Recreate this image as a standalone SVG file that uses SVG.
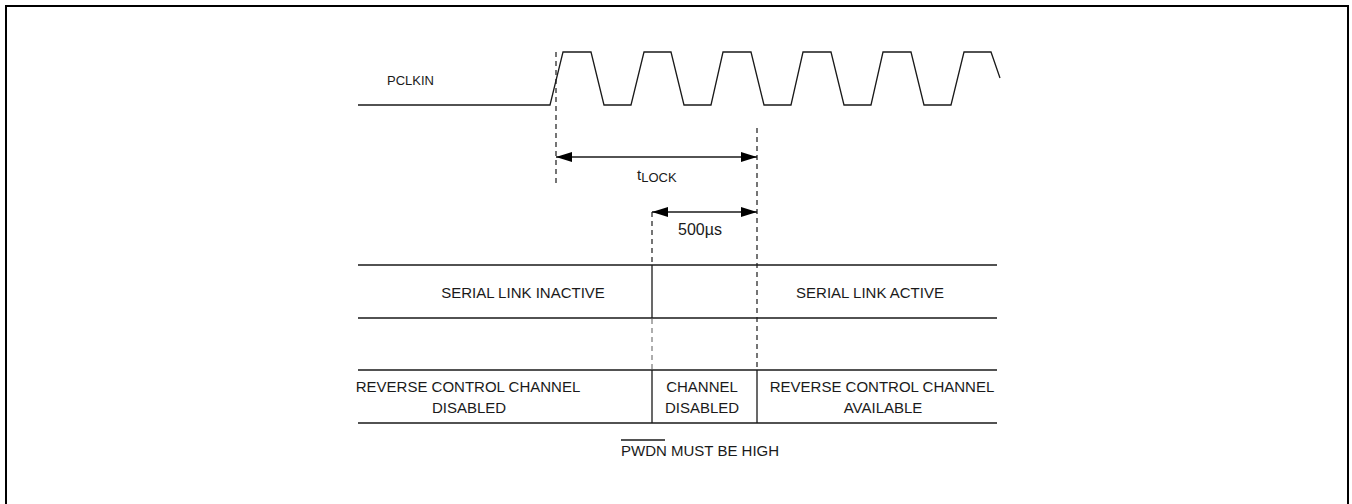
<svg xmlns="http://www.w3.org/2000/svg" width="1352" height="504" viewBox="0 0 1352 504">
<style>
.t{font-family:"Liberation Sans",Arial,sans-serif;fill:#1a1a1a;}
.l{stroke:#1a1a1a;stroke-width:1.3;fill:none;}
.d{stroke:#1a1a1a;stroke-width:1.2;fill:none;stroke-dasharray:5 4;}
.dg{stroke:#777;stroke-width:1.2;fill:none;stroke-dasharray:5 4;}
</style>
<defs>
<marker id="ah" viewBox="0 0 16 10" refX="16" refY="5" markerWidth="16" markerHeight="10" markerUnits="userSpaceOnUse" orient="auto-start-reverse">
<path d="M0,0 L16,5 L0,10 Z" fill="#000"/>
</marker>
</defs>
<rect width="1352" height="504" fill="#fff"/>
<path d="M6,520 V6 H1348 V520" stroke="#000" stroke-width="2" fill="none"/>
<g id="pclkin">
<text class="t" x="387" y="85" font-size="13">PCLKIN</text>
<path class="l" d="M358,105 H550 L563,52 H591 L604,105 H631 L644,52 H671 L684,105 H711 L723,52 H751 L764,105 H791 L803,52 H831 L844,105 H871 L883,52 H911 L924,105 H951 L964,52 H991 L1000,78"/>
</g>
<g id="connectors">
<path class="d" d="M556,52 V186"/>
<path class="d" d="M757,128 V370"/>
<path class="d" d="M652,212 V263"/>
<path class="dg" d="M652,319 V369"/>
<path class="l" d="M556,157 H757" marker-start="url(#ah)" marker-end="url(#ah)"/>
<path class="l" d="M652,212 H757" marker-start="url(#ah)" marker-end="url(#ah)"/>
</g>
<g id="tlock">
<text class="t" x="637" y="180" font-size="15">t<tspan font-size="13" dy="2">LOCK</tspan></text>
</g>
<g id="t500">
<text class="t" x="700" y="235" font-size="16" text-anchor="middle">500µs</text>
</g>
<g id="table">
<path class="l" d="M358,265 H997 M358,318 H997 M358,370 H997 M358,423 H997 M652,265 V318 M652,370 V423 M757,370 V423"/>
</g>
<g id="serial-inactive"><text class="t" x="523" y="298" font-size="15" text-anchor="middle">SERIAL LINK INACTIVE</text></g>
<g id="serial-active"><text class="t" x="870" y="298" font-size="15" text-anchor="middle">SERIAL LINK ACTIVE</text></g>
<g id="rcc-disabled">
<text class="t" x="468" y="392" font-size="15" text-anchor="middle">REVERSE CONTROL CHANNEL</text>
<text class="t" x="469" y="413" font-size="15" text-anchor="middle">DISABLED</text>
</g>
<g id="ch-disabled">
<text class="t" x="702" y="392" font-size="15" text-anchor="middle">CHANNEL</text>
<text class="t" x="702" y="413" font-size="15" text-anchor="middle">DISABLED</text>
</g>
<g id="rcc-available">
<text class="t" x="882" y="392" font-size="15" text-anchor="middle">REVERSE CONTROL CHANNEL</text>
<text class="t" x="883" y="413" font-size="15" text-anchor="middle">AVAILABLE</text>
</g>
<g id="pwdn">
<text class="t" x="621" y="456" font-size="15">PWDN MUST BE HIGH</text>
<path class="l" d="M621,440 H665"/>
</g>
</svg>
